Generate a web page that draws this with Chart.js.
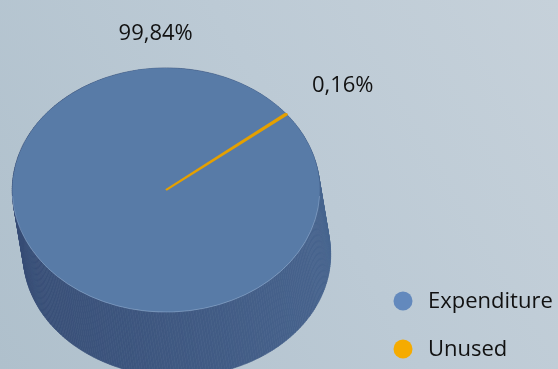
<!DOCTYPE html>
<html>
<head>
<meta charset="utf-8">
<script src="https://cdn.jsdelivr.net/npm/chart.js@4.4.1/dist/chart.umd.min.js"></script>
<style>
  html, body { margin: 0; padding: 0; }
  body {
    width: 558px; height: 369px; overflow: hidden;
    background: linear-gradient(60deg, #afc0cc 0%, #bccad5 55%, #c6d1da 100%);
  }
  canvas { display: block; }
</style>
</head>
<body>
<canvas id="pieChart" width="558" height="369"></canvas>
<script>
// datos del gráfico
const categorias = ['Expenditure', 'Unused'];
const porcentajes = [99.84, 0.16];
const coloresPorcion = ['#587ba7', '#e5a000'];
const coloresLeyenda = ['#6389bd', '#f5ab00'];

const APLASTADO = 0.794;   // alto/ancho de la cara superior
const DESPLAZ_X = 0.071;   // desplazamiento de la base (fracción del radio)
const DESPLAZ_Y = 0.42;
const FUENTE = '"Open Sans", Lato, sans-serif';

function sombra(hex, f) {
    const n = parseInt(hex.slice(1), 16);
    const r = (n >> 16) & 255, g = (n >> 8) & 255, b = n & 255;
    const fb = f * 0.8 + 0.2;
    return `rgb(${Math.round(r * f)},${Math.round(g * f)},${Math.round(b * fb)})`;
}

function puntoSup(arc, a) {
    return [arc.x + arc.outerRadius * Math.cos(a), arc.y + APLASTADO * arc.outerRadius * Math.sin(a)];
}

// lateral del cilindro + cara superior aplastada
const pastel3D = {
    id: 'pastel3D',
    beforeDatasetsDraw(chart) {
        const ctx = chart.ctx;
        const meta = chart.getDatasetMeta(0);
        const paso = Math.PI / 180;
        ctx.save();
        meta.data.forEach((arc, i) => {
            const dx = arc.outerRadius * DESPLAZ_X;
            const dy = arc.outerRadius * DESPLAZ_Y;
            for (let a = arc.startAngle; a < arc.endAngle; a += paso) {
                const b = Math.min(a + paso, arc.endAngle);
                const p1 = puntoSup(arc, a), p2 = puntoSup(arc, b);
                const f = 0.72 + 0.09 * Math.cos((a + b) / 2);
                ctx.fillStyle = ctx.strokeStyle = sombra(coloresPorcion[i], f);
                ctx.lineWidth = 0.6;
                ctx.beginPath();
                ctx.moveTo(p1[0], p1[1]);
                ctx.lineTo(p2[0], p2[1]);
                ctx.lineTo(p2[0] + dx, p2[1] + dy);
                ctx.lineTo(p1[0] + dx, p1[1] + dy);
                ctx.closePath();
                ctx.fill();
                ctx.stroke();
            }
        });
        ctx.restore();
        const c = meta.data[0];
        ctx.save();
        ctx.translate(c.x, c.y);
        ctx.scale(1, APLASTADO);
        ctx.translate(-c.x, -c.y);
    },
    afterDatasetsDraw(chart) {
        const ctx = chart.ctx;
        ctx.restore();
        // brillo suave en el borde frontal de la cara superior
        const c = chart.getDatasetMeta(0).data[0];
        ctx.save();
        ctx.strokeStyle = 'rgba(140,170,205,0.55)';
        ctx.lineWidth = 1;
        ctx.beginPath();
        ctx.ellipse(c.x, c.y, c.outerRadius, c.outerRadius * APLASTADO, 0, 0.05, Math.PI - 0.05);
        ctx.stroke();
        ctx.restore();
    }
};

// etiquetas de porcentaje
const etiquetas = {
    id: 'etiquetas',
    afterDraw(chart, args, opts) {
        const ctx = chart.ctx;
        const meta = chart.getDatasetMeta(0);
        ctx.save();
        ctx.font = `${opts.tam}px ${FUENTE}`;
        ctx.fillStyle = '#111';
        ctx.textAlign = 'center';
        ctx.textBaseline = 'middle';
        meta.data.forEach((arc, i) => {
            const texto = porcentajes[i].toFixed(2).replace('.', ',') + '%';
            const pos = opts.posiciones[i];
            const ang = pos.ang * Math.PI / 180;
            const r = arc.outerRadius * pos.r;
            ctx.fillText(texto, arc.x + r * Math.cos(ang), arc.y + APLASTADO * r * Math.sin(ang));
        });
        ctx.restore();
    }
};

// leyenda a la derecha, abajo
const leyenda = {
    id: 'leyenda',
    afterDraw(chart, args, opts) {
        const ctx = chart.ctx;
        ctx.save();
        ctx.font = `${opts.tam}px ${FUENTE}`;
        ctx.textBaseline = 'middle';
        categorias.forEach((cat, i) => {
            const y = opts.y + i * opts.salto;
            ctx.fillStyle = coloresLeyenda[i];
            ctx.beginPath();
            ctx.arc(opts.x, y, opts.radio, 0, 2 * Math.PI);
            ctx.fill();
            ctx.fillStyle = '#111';
            ctx.fillText(cat, opts.x + 25, y + 1);
        });
        ctx.restore();
    }
};

new Chart(document.getElementById('pieChart'), {
    type: 'pie',
    data: {
        labels: categorias,
        datasets: [{
            data: porcentajes,
            backgroundColor: coloresPorcion,
            borderColor: coloresPorcion,
            borderWidth: [0, 2.5]
        }]
    },
    options: {
        responsive: false,
        animation: false,
        rotation: 51.8,
        layout: { padding: { left: 11, right: 237, top: 35, bottom: 24 } },
        plugins: {
            legend: { display: false },
            tooltip: { enabled: false },
            etiquetas: { tam: 22, posiciones: [{ ang: -93, r: 1.28 }, { ang: -36.5, r: 1.43 }] },
            leyenda: { x: 403, y: 301, salto: 48, radio: 9.5, tam: 22 }
        }
    },
    plugins: [pastel3D, etiquetas, leyenda]
});
</script>
</body>
</html>
